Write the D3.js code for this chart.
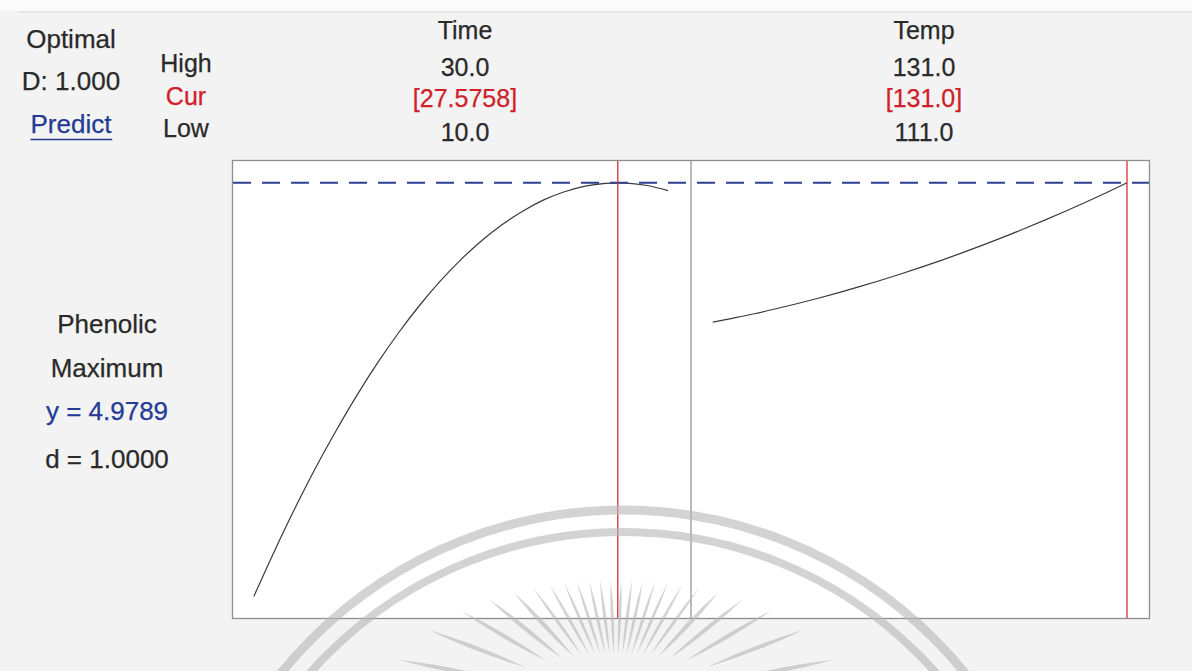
<!DOCTYPE html>
<html>
<head>
<meta charset="utf-8">
<script src="https://cdn.jsdelivr.net/npm/d3@7"></script>
<style>
  html, body { margin: 0; padding: 0; background: #f3f3f3; }
  svg { display: block; }
  text { font-family: "Liberation Sans", Arial, sans-serif; }
</style>
</head>
<body>
<svg id="chart" width="1192" height="671"></svg>
<script>
// ---- Factor settings ----
const factors = ["Time", "Temp"];
const factorLow = [10.0, 111.0];
const factorHigh = [30.0, 131.0];
const factorCur = [27.5758, 131.0];
const highLabels = ["30.0", "131.0"];
const curLabels = ["[27.5758]", "[131.0]"];
const lowLabels = ["10.0", "111.0"];

// ---- Response summary ----
const responseName = "Phenolic";
const goalName = "Maximum";
const predictedY = 4.9789;
const desirability = 1.0000;
const compositeD = 1.000;

// Predicted Phenolic across Time, Temp held at 131.0
const timeLevels = [10, 11, 12, 13, 14, 15, 16, 17, 18, 19, 20,
                    21, 22, 23, 24, 25, 26, 27, 27.5758, 28, 29, 30];
const phenolicVsTime = [3.600, 3.752, 3.896, 4.031, 4.156, 4.273, 4.381, 4.480, 4.570, 4.651, 4.723,
                        4.786, 4.840, 4.885, 4.922, 4.949, 4.968, 4.977, 4.9789, 4.978, 4.970, 4.953];

// Predicted Phenolic across Temp, Time held at 27.5758
const tempLevels = [111, 112, 113, 114, 115, 116, 117, 118, 119, 120, 121,
                    122, 123, 124, 125, 126, 127, 128, 129, 130, 131];
const phenolicVsTemp = [4.5145, 4.5282, 4.5425, 4.5582, 4.5749, 4.5926, 4.6114, 4.6311, 4.6517, 4.6734, 4.6961,
                        4.7198, 4.7445, 4.7703, 4.7971, 4.8248, 4.8536, 4.8834, 4.9142, 4.9461, 4.9789];

// Response axis limits (axis itself is not drawn)
const responseLimits = [3.525, 5.055];

const series = [
  { x: timeLevels, y: phenolicVsTime },
  { x: tempLevels, y: phenolicVsTemp }
];

// ---- Layout ----
const W = 1192, H = 671;
const box = { x0: 232, x1: 1150, y0: 160, y1: 619 };
const panelW = (box.x1 - box.x0) / factors.length;
const padL = 21.8, padR = 23;

const ink = "#2a2a2a", red = "#d0202a", blue = "#243b95", frame = "#8e8e8e";
const fs = 25;

const svg = d3.select("#chart");

// page background with a lighter strip at the very top
svg.append("rect").attr("width", W).attr("height", H).attr("fill", "#f3f3f3");
svg.append("rect").attr("width", W).attr("height", 11).attr("fill", "#fbfbfb");
svg.append("line").attr("x1", 18).attr("x2", W).attr("y1", 12).attr("y2", 12)
  .attr("stroke", "#e3e3e3").attr("stroke-width", 1.5);

// white plotting area
svg.append("rect")
  .attr("x", box.x0).attr("y", box.y0)
  .attr("width", box.x1 - box.x0).attr("height", box.y1 - box.y0)
  .attr("fill", "#ffffff");

const yScale = d3.scaleLinear().domain(responseLimits).range([box.y1, box.y0]);

const xScales = factors.map((f, i) => {
  const px0 = box.x0 + i * panelW;
  return d3.scaleLinear().domain([factorLow[i], factorHigh[i]])
    .range([px0 + padL, px0 + panelW - padR]);
});

// response curves
const line = d3.line().curve(d3.curveMonotoneX);
series.forEach((s, i) => {
  const pts = s.x.map((v, k) => [xScales[i](v), yScale(s.y[k])]);
  svg.append("path")
    .attr("d", line(pts))
    .attr("fill", "none")
    .attr("stroke", "#3a3a3a")
    .attr("stroke-width", 1.2);
});

// predicted response reference line
svg.append("line")
  .attr("x1", box.x0 + 1).attr("x2", box.x1)
  .attr("y1", yScale(predictedY)).attr("y2", yScale(predictedY))
  .attr("stroke", "#2e3f8f").attr("stroke-width", 2)
  .attr("stroke-dasharray", "18,11");

// current factor settings
factors.forEach((f, i) => {
  const x = xScales[i](factorCur[i]);
  svg.append("line")
    .attr("x1", x).attr("x2", x).attr("y1", box.y0).attr("y2", box.y1)
    .attr("stroke", red).attr("stroke-width", 1.2);
});

// frame and panel dividers
svg.append("rect")
  .attr("x", box.x0 + 0.5).attr("y", box.y0 + 0.5)
  .attr("width", box.x1 - box.x0 - 1).attr("height", box.y1 - box.y0 - 1)
  .attr("fill", "none").attr("stroke", frame).attr("stroke-width", 1.3);
d3.range(1, factors.length).forEach(i => {
  const x = box.x0 + i * panelW;
  svg.append("line").attr("x1", x).attr("x2", x).attr("y1", box.y0).attr("y2", box.y1)
    .attr("stroke", frame).attr("stroke-width", 1.2);
});

// ---- Header text ----
function label(x, y, str, color, size, anchor) {
  return svg.append("text").attr("x", x).attr("y", y)
    .attr("text-anchor", anchor || "middle")
    .attr("font-size", size || fs)
    .attr("fill", color || ink)
    .attr("stroke", color || ink).attr("stroke-width", 0.25)
    .text(str);
}

label(71, 48, "Optimal", ink, 26);
label(71, 90, "D: " + compositeD.toFixed(3), ink, 26);
const pred = label(71, 133, "Predict", blue, 26);
const pb = pred.node().getBBox();
svg.append("line").attr("x1", pb.x).attr("x2", pb.x + pb.width)
  .attr("y1", 139.5).attr("y2", 139.5).attr("stroke", blue).attr("stroke-width", 1.6);

label(186, 72, "High");
label(186, 105, "Cur", red);
label(186, 137, "Low");

factors.forEach((f, i) => {
  const cx = box.x0 + i * panelW + panelW / 2 + 3.5;
  label(cx, 39, f);
  label(cx, 76, highLabels[i]);
  label(cx, 107, curLabels[i], red);
  label(cx, 141, lowLabels[i]);
});

// response block at left
label(107, 333, responseName, ink, 26);
label(107, 377, goalName, ink, 26);
label(107, 420, "y = " + predictedY.toFixed(4), blue, 26);
label(107, 468, "d = " + desirability.toFixed(4), ink, 26);

// ---- faint seal watermark over the lower part ----
const seal = svg.append("g").attr("opacity", 0.62);
const sc = { x: 623, y: 950 };
[[440, 9], [418, 8]].forEach(([r, w]) => {
  seal.append("circle").attr("cx", sc.x).attr("cy", sc.y).attr("r", r)
    .attr("fill", "none").attr("stroke", "#b9b9b9").attr("stroke-width", w);
});
// sun rays fanning out from below the frame
const rc = { x: 616, y: 702 };
const rayAngles = [-79, -69, -59.5, -51, -43, -36, -29.5, -23.5, -18, -12.5, -7.5, -2.5,
                   2.5, 7.5, 12.5, 18, 23.5, 29.5, 36, 43, 51, 59.5, 69, 79];
rayAngles.forEach((deg) => {
  const a = deg * Math.PI / 180;
  const s = Math.sin(a), c = Math.cos(a);
  const ell = (ax, by) => 1 / Math.sqrt((s * s) / (ax * ax) + (c * c) / (by * by));
  const rIn = ell(130, 48), rOut = ell(232, 122);
  const p0 = [rc.x + s * rIn, rc.y - c * rIn];
  const p1 = [rc.x + s * rOut, rc.y - c * rOut];
  const mx = (p0[0] + p1[0]) / 2, my = (p0[1] + p1[1]) / 2;
  const hw = Math.abs(deg) > 40 ? 4.2 : 3.0;
  const nx = c * hw, ny = s * hw;
  seal.append("path")
    .attr("d", `M${p0[0]},${p0[1]} Q${mx + nx},${my + ny} ${p1[0]},${p1[1]} Q${mx - nx},${my - ny} ${p0[0]},${p0[1]}Z`)
    .attr("fill", "#b9b9b9");
});
</script>
</body>
</html>
